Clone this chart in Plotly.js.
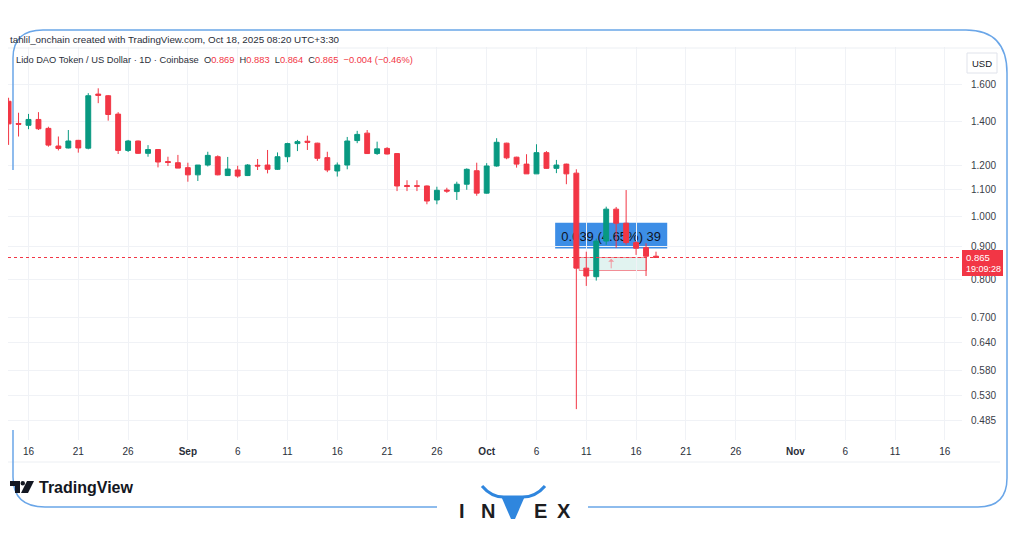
<!DOCTYPE html>
<html><head><meta charset="utf-8">
<script src="https://cdn.plot.ly/plotly-3.0.1.min.js"></script>
<style>html,body{margin:0;padding:0;background:#fff}#chart{width:1024px;height:538px}</style>
</head><body><div id="chart"></div>
<script>
// ---- data (LDO/USD daily) ----
const dates = ['2025-08-14','2025-08-15','2025-08-16','2025-08-17','2025-08-18','2025-08-19','2025-08-20','2025-08-21','2025-08-22','2025-08-23','2025-08-24','2025-08-25','2025-08-26','2025-08-27','2025-08-28','2025-08-29','2025-08-30','2025-08-31',
'2025-09-01','2025-09-02','2025-09-03','2025-09-04','2025-09-05','2025-09-06','2025-09-07','2025-09-08','2025-09-09','2025-09-10','2025-09-11','2025-09-12','2025-09-13','2025-09-14','2025-09-15','2025-09-16','2025-09-17','2025-09-18','2025-09-19','2025-09-20','2025-09-21','2025-09-22','2025-09-23','2025-09-24','2025-09-25','2025-09-26','2025-09-27','2025-09-28','2025-09-29','2025-09-30',
'2025-10-01','2025-10-02','2025-10-03','2025-10-04','2025-10-05','2025-10-06','2025-10-07','2025-10-08','2025-10-09','2025-10-10','2025-10-11','2025-10-12','2025-10-13','2025-10-14','2025-10-15','2025-10-16','2025-10-17','2025-10-18'];
const opens  = [1.506,1.392,1.383,1.412,1.368,1.285,1.276,1.311,1.275,1.545,1.536,1.439,1.265,1.308,1.252,1.269,1.216,1.211,
1.190,1.160,1.201,1.237,1.157,1.180,1.157,1.200,1.201,1.183,1.237,1.296,1.307,1.298,1.233,1.176,1.201,1.310,1.345,1.251,1.274,1.251,1.117,1.116,1.115,1.061,1.099,1.093,1.122,1.177,
1.087,1.197,1.298,1.235,1.205,1.164,1.255,1.187,1.205,1.167,0.833,0.808,0.917,1.027,0.977,0.912,0.896,0.869];
const highs  = [1.525,1.446,1.440,1.449,1.376,1.329,1.360,1.313,1.550,1.577,1.540,1.449,1.313,1.310,1.289,1.271,1.237,1.245,
1.211,1.201,1.259,1.243,1.236,1.198,1.205,1.227,1.267,1.256,1.300,1.313,1.333,1.300,1.259,1.212,1.327,1.356,1.360,1.305,1.280,1.253,1.138,1.138,1.117,1.112,1.108,1.132,1.187,1.211,
1.209,1.321,1.300,1.237,1.248,1.293,1.262,1.223,1.207,1.183,0.883,0.925,1.036,1.035,1.099,0.917,0.910,0.883];
const lows   = [1.290,1.329,1.364,1.360,1.282,1.265,1.274,1.255,1.270,1.496,1.406,1.249,1.258,1.249,1.237,1.191,1.197,1.188,
1.132,1.135,1.195,1.158,1.157,1.148,1.155,1.180,1.166,1.180,1.213,1.262,1.267,1.219,1.171,1.153,1.183,1.298,1.249,1.245,1.247,1.095,1.095,1.095,1.045,1.045,1.088,1.061,1.100,1.077,
1.085,1.194,1.226,1.190,1.164,1.164,1.185,1.167,1.122,0.505,0.782,0.797,0.905,0.895,0.905,0.873,0.810,0.864];
const closes = [1.390,1.388,1.412,1.366,1.289,1.274,1.308,1.276,1.536,1.538,1.437,1.265,1.308,1.252,1.269,1.214,1.212,1.188,
1.160,1.201,1.243,1.160,1.184,1.155,1.201,1.197,1.183,1.237,1.296,1.305,1.302,1.230,1.180,1.201,1.308,1.339,1.251,1.272,1.249,1.115,1.113,1.114,1.057,1.098,1.095,1.122,1.183,1.087,
1.197,1.302,1.232,1.205,1.164,1.255,1.187,1.201,1.164,0.833,0.810,0.917,1.027,0.977,0.912,0.894,0.869,0.865];

const xTickDates  = ['2025-08-16','2025-08-21','2025-08-26','2025-09-01','2025-09-06','2025-09-11','2025-09-16','2025-09-21','2025-09-26','2025-10-01','2025-10-06','2025-10-11','2025-10-16','2025-10-21','2025-10-26','2025-11-01','2025-11-06','2025-11-11','2025-11-16'];
const xTickLabels = ['16','21','26','<b>Sep</b>','6','11','16','21','26','<b>Oct</b>','6','11','16','21','26','<b>Nov</b>','6','11','16'];
const yTickValues = [1.6,1.4,1.2,1.1,1.0,0.9,0.8,0.7,0.64,0.58,0.53,0.485];
const yTickLabels = ['1.600','1.400','1.200','1.100','1.000','0.900','0.800','0.700','0.640','0.580','0.530','0.485'];

// measuring tool values
const measureStart = '2025-10-10 07:00', measureEnd = '2025-10-17 01:00';
const measureLow = 0.826, measureHigh = 0.865;
const measureText = '0.039 (4.65%) 39';
const lastTime = '19:09:28';
const xRange = ['2025-08-13 22:36','2025-11-17 17:17'];

// ---- layout helpers (pixel -> paper) ----
const PL=8, PR=962, PT=47, PB=440;
const px = x => (x-PL)/(PR-PL);
const py = y => (PB-y)/(PB-PT);
const P = (x,y) => px(x).toFixed(5)+','+py(y).toFixed(5);

const FONT = 'Liberation Sans, Arial, sans-serif';
const RED = '#f23645', GREEN = '#089981', BLUE = '#6aa6e8';
const lastClose = closes[closes.length-1];

const priceLine = {
  type:'scatter', mode:'lines', x:xRange, y:[lastClose,lastClose],
  line:{color:'#f23645',width:1,dash:'dot'}, hoverinfo:'skip', cliponaxis:true
};
const trace = {
  type:'candlestick', x:dates, open:opens, high:highs, low:lows, close:closes,
  increasing:{line:{color:GREEN,width:1}, fillcolor:GREEN},
  decreasing:{line:{color:RED,width:1}, fillcolor:RED},
  whiskerwidth:0, hoverinfo:'none'
};

const shapes = [
  {type:'line',xref:'paper',yref:'paper',x0:px(8),x1:px(1000),y0:py(48),y1:py(48),line:{color:'#eceff3',width:1}},
  {type:'line',xref:'paper',yref:'paper',x0:px(8),x1:px(1000),y0:py(462),y1:py(462),line:{color:'#eceff3',width:1}},
  // measurement label box (below candles)
  {type:'rect',xref:'x',yref:'y',layer:'below',x0:'2025-10-07 21:00',x1:'2025-10-19 03:00',y0:0.893,y1:0.979,
   fillcolor:'#3d8ee6',line:{width:0},
   label:{text:measureText,font:{family:FONT,size:13,color:'#10141f'},textposition:'middle center'}},
  // measurement range box
  {type:'rect',xref:'x',yref:'y',layer:'below',x0:measureStart,x1:measureEnd,y0:measureLow,y1:measureHigh,
   fillcolor:'rgba(8,153,129,0.12)',line:{color:'rgba(242,54,69,0.55)',width:1}},
  // price label
  {type:'rect',xref:'paper',yref:'paper',x0:px(962),x1:px(1003),y0:py(250),y1:py(276),fillcolor:RED,line:{width:0}},
  // USD box
  {type:'rect',xref:'paper',yref:'paper',x0:px(967),x1:px(997),y0:py(53),y1:py(73),fillcolor:'#fff',line:{color:'#e0e3eb',width:1}},
  // decorative frame
  {type:'path',xref:'paper',yref:'paper',path:'M'+P(13,170)+' L'+P(13,58)+' Q'+P(13,30)+' '+P(43,30)+' L'+P(966,30)+' Q'+P(1007,30)+' '+P(1007,73)+' L'+P(1007,478)+' Q'+P(1007,507)+' '+P(978,507)+' L'+P(588,507),line:{color:BLUE,width:1.5}},
  {type:'path',xref:'paper',yref:'paper',path:'M'+P(13,430)+' L'+P(13,477)+' Q'+P(13,507)+' '+P(45,507)+' L'+P(437,507),line:{color:BLUE,width:1.5}},
  // TradingView logo glyph
  {type:'path',xref:'paper',yref:'paper',path:'M'+P(10,481)+' L'+P(20,481)+' L'+P(20,493)+' L'+P(15,493)+' L'+P(15,486)+' L'+P(10,486)+' Z',fillcolor:'#131722',line:{width:0}},
  {type:'circle',xref:'paper',yref:'paper',x0:px(20.5),x1:px(25),y0:py(481),y1:py(485.5),fillcolor:'#131722',line:{width:0}},
  {type:'path',xref:'paper',yref:'paper',path:'M'+P(27,481)+' L'+P(34,481)+' L'+P(28,493)+' L'+P(21,493)+' Z',fillcolor:'#131722',line:{width:0}},
  // INVEX V and horns
  {type:'path',xref:'paper',yref:'paper',path:'M'+P(501,496)+' L'+P(525,496)+' L'+P(515,519)+' L'+P(511,519)+' Z',fillcolor:'#2f86de',line:{width:0}},
  {type:'path',xref:'paper',yref:'paper',path:'M'+P(482,486)+' Q'+P(492,498)+' '+P(506,497)+' L'+P(520,497)+' Q'+P(535,498)+' '+P(545,486),line:{color:'#2f86de',width:3}}
];

const ann = (x,y,text,opt) => Object.assign({xref:'paper',yref:'paper',x:px(x),y:py(y),text:text,showarrow:false,xanchor:'left',yanchor:'middle',font:{family:FONT,size:11,color:'#333'}},opt||{});
const r = s => '<span style="color:'+RED+'">'+s+'</span>';
const annotations = [
  ann(8,39,'tahlil_onchain created with TradingView.com, Oct 18, 2025 08:20 UTC+3:30',{font:{family:FONT,size:9.8,color:'#2a2e39'}}),
  ann(14,60,'Lido DAO Token / US Dollar · 1D · Coinbase  O'+r(opens[opens.length-1].toFixed(3))+'  H'+r(highs[highs.length-1].toFixed(3))+'  L'+r(lows[lows.length-1].toFixed(3))+'  C'+r(lastClose.toFixed(3))+'  '+r('−0.004 (−0.46%)'),{font:{family:FONT,size:9.3,color:'#2a2e39'}}),
  ann(982,63,'USD',{xanchor:'center',font:{family:FONT,size:9.5,color:'#131722'}}),
  ann(964,257.5,lastClose.toFixed(3),{font:{family:FONT,size:9.5,color:'#fff'}}),
  ann(964,268.5,lastTime,{font:{family:FONT,size:9,color:'#fff'}}),
  ann(37,487,'<b>TradingView</b>',{font:{family:FONT,size:16,color:'#131722'}}),
  ann(462,511,'<b>I</b>',{xanchor:'center',font:{family:FONT,size:20,color:'#1d1d1f'}}),
  ann(488,511,'<b>N</b>',{xanchor:'center',font:{family:FONT,size:20,color:'#1d1d1f'}}),
  ann(540,511,'<b>E</b>',{xanchor:'center',font:{family:FONT,size:20,color:'#1d1d1f'}}),
  ann(564,511,'<b>X</b>',{xanchor:'center',font:{family:FONT,size:20,color:'#1d1d1f'}}),
  {xref:'x',yref:'y',x:'2025-10-13 12:00',y:Math.log10(0.861),ax:0,ay:11,text:'',showarrow:true,arrowhead:1,arrowsize:1,arrowwidth:1,arrowcolor:'#f19aa1'}
];

const layout = {
  width:1024,height:538,
  margin:{l:PL,r:1024-PR,t:PT,b:538-PB,pad:0},
  paper_bgcolor:'#fff',plot_bgcolor:'#fff',showlegend:false,
  xaxis:{type:'date',range:xRange,rangeslider:{visible:false},
    tickmode:'array',tickvals:xTickDates,ticktext:xTickLabels,ticks:'',showline:false,zeroline:false,
    showgrid:true,gridcolor:'#f0f2f6',gridwidth:1,tickfont:{family:FONT,size:10,color:'#2a2e39'},ticklabelstandoff:4,fixedrange:true},
  yaxis:{type:'log',side:'right',range:[Math.log10(0.4526),Math.log10(1.826)],
    tickmode:'array',tickvals:yTickValues,ticktext:yTickLabels,ticks:'',showline:false,zeroline:false,
    showgrid:true,gridcolor:'#f0f2f6',gridwidth:1,tickfont:{family:FONT,size:10,color:'#3a3e49'},ticklabelstandoff:8,fixedrange:true},
  shapes:shapes, annotations:annotations
};

Plotly.newPlot('chart',[priceLine,trace],layout,{staticPlot:true,displayModeBar:false});
</script>
</body></html>
